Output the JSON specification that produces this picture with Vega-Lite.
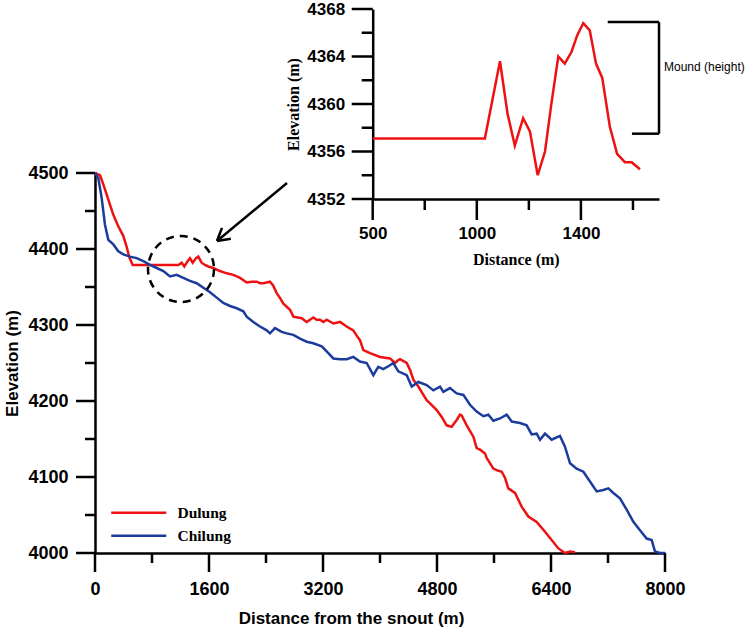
{
  "$schema": "https://vega.github.io/schema/vega-lite/v6.json",
  "width": 570,
  "height": 380,
  "autosize": {"type": "none"},
  "padding": {"left": 95, "top": 173, "right": 89, "bottom": 76},
  "background": "white",
  "config": {
    "view": {"stroke": null},
    "axis": {
      "grid": false,
      "ticks": false,
      "domainColor": "black",
      "domainWidth": 2.5,
      "labelColor": "black",
      "titleColor": "black",
      "labelFlush": false,
      "labelOverlap": false,
      "labelAngle": 0,
      "format": "d"
    }
  },
  "datasets": {
    "main": [
      {"s": "Dulung", "d": 0, "e": 4500}, {"s": "Dulung", "d": 70, "e": 4497}, {"s": "Dulung", "d": 117, "e": 4485}, {"s": "Dulung", "d": 187, "e": 4465}, {"s": "Dulung", "d": 257, "e": 4445}, {"s": "Dulung", "d": 327, "e": 4430}, {"s": "Dulung", "d": 398, "e": 4417}, {"s": "Dulung", "d": 444, "e": 4403}, {"s": "Dulung", "d": 482, "e": 4389}, {"s": "Dulung", "d": 529, "e": 4379}, {"s": "Dulung", "d": 700, "e": 4379}, {"s": "Dulung", "d": 900, "e": 4379}, {"s": "Dulung", "d": 1170, "e": 4379}, {"s": "Dulung", "d": 1216, "e": 4382}, {"s": "Dulung", "d": 1254, "e": 4377}, {"s": "Dulung", "d": 1300, "e": 4384}, {"s": "Dulung", "d": 1333, "e": 4388}, {"s": "Dulung", "d": 1371, "e": 4382}, {"s": "Dulung", "d": 1418, "e": 4388}, {"s": "Dulung", "d": 1450, "e": 4390}, {"s": "Dulung", "d": 1497, "e": 4382}, {"s": "Dulung", "d": 1544, "e": 4379}, {"s": "Dulung", "d": 1590, "e": 4377}, {"s": "Dulung", "d": 1660, "e": 4375}, {"s": "Dulung", "d": 1754, "e": 4371}, {"s": "Dulung", "d": 1848, "e": 4368}, {"s": "Dulung", "d": 1941, "e": 4366}, {"s": "Dulung", "d": 2035, "e": 4362}, {"s": "Dulung", "d": 2129, "e": 4356}, {"s": "Dulung", "d": 2200, "e": 4357}, {"s": "Dulung", "d": 2270, "e": 4357}, {"s": "Dulung", "d": 2316, "e": 4355}, {"s": "Dulung", "d": 2363, "e": 4355}, {"s": "Dulung", "d": 2456, "e": 4357}, {"s": "Dulung", "d": 2500, "e": 4352}, {"s": "Dulung", "d": 2550, "e": 4342}, {"s": "Dulung", "d": 2600, "e": 4335}, {"s": "Dulung", "d": 2644, "e": 4328}, {"s": "Dulung", "d": 2737, "e": 4320}, {"s": "Dulung", "d": 2784, "e": 4311}, {"s": "Dulung", "d": 2901, "e": 4309}, {"s": "Dulung", "d": 2971, "e": 4304}, {"s": "Dulung", "d": 3064, "e": 4310}, {"s": "Dulung", "d": 3110, "e": 4307}, {"s": "Dulung", "d": 3158, "e": 4307}, {"s": "Dulung", "d": 3205, "e": 4304}, {"s": "Dulung", "d": 3252, "e": 4307}, {"s": "Dulung", "d": 3345, "e": 4302}, {"s": "Dulung", "d": 3439, "e": 4304}, {"s": "Dulung", "d": 3532, "e": 4298}, {"s": "Dulung", "d": 3625, "e": 4293}, {"s": "Dulung", "d": 3680, "e": 4285}, {"s": "Dulung", "d": 3719, "e": 4280}, {"s": "Dulung", "d": 3766, "e": 4267}, {"s": "Dulung", "d": 3860, "e": 4263}, {"s": "Dulung", "d": 4000, "e": 4258}, {"s": "Dulung", "d": 4140, "e": 4256}, {"s": "Dulung", "d": 4210, "e": 4250}, {"s": "Dulung", "d": 4257, "e": 4254}, {"s": "Dulung", "d": 4281, "e": 4255}, {"s": "Dulung", "d": 4375, "e": 4250}, {"s": "Dulung", "d": 4421, "e": 4241}, {"s": "Dulung", "d": 4468, "e": 4228}, {"s": "Dulung", "d": 4538, "e": 4219}, {"s": "Dulung", "d": 4609, "e": 4208}, {"s": "Dulung", "d": 4655, "e": 4201}, {"s": "Dulung", "d": 4702, "e": 4197}, {"s": "Dulung", "d": 4796, "e": 4188}, {"s": "Dulung", "d": 4866, "e": 4179}, {"s": "Dulung", "d": 4936, "e": 4168}, {"s": "Dulung", "d": 5006, "e": 4166}, {"s": "Dulung", "d": 5076, "e": 4175}, {"s": "Dulung", "d": 5123, "e": 4182}, {"s": "Dulung", "d": 5146, "e": 4181}, {"s": "Dulung", "d": 5217, "e": 4168}, {"s": "Dulung", "d": 5310, "e": 4153}, {"s": "Dulung", "d": 5357, "e": 4138}, {"s": "Dulung", "d": 5404, "e": 4136}, {"s": "Dulung", "d": 5474, "e": 4131}, {"s": "Dulung", "d": 5497, "e": 4125}, {"s": "Dulung", "d": 5591, "e": 4111}, {"s": "Dulung", "d": 5638, "e": 4109}, {"s": "Dulung", "d": 5708, "e": 4107}, {"s": "Dulung", "d": 5754, "e": 4099}, {"s": "Dulung", "d": 5801, "e": 4085}, {"s": "Dulung", "d": 5895, "e": 4079}, {"s": "Dulung", "d": 5988, "e": 4061}, {"s": "Dulung", "d": 6082, "e": 4048}, {"s": "Dulung", "d": 6199, "e": 4041}, {"s": "Dulung", "d": 6316, "e": 4028}, {"s": "Dulung", "d": 6409, "e": 4017}, {"s": "Dulung", "d": 6503, "e": 4006}, {"s": "Dulung", "d": 6596, "e": 4000}, {"s": "Dulung", "d": 6667, "e": 4002}, {"s": "Dulung", "d": 6737, "e": 4001},
      {"s": "Chilung", "d": 0, "e": 4500}, {"s": "Chilung", "d": 47, "e": 4493}, {"s": "Chilung", "d": 94, "e": 4467}, {"s": "Chilung", "d": 140, "e": 4432}, {"s": "Chilung", "d": 187, "e": 4412}, {"s": "Chilung", "d": 257, "e": 4406}, {"s": "Chilung", "d": 327, "e": 4397}, {"s": "Chilung", "d": 398, "e": 4393}, {"s": "Chilung", "d": 491, "e": 4390}, {"s": "Chilung", "d": 585, "e": 4388}, {"s": "Chilung", "d": 678, "e": 4384}, {"s": "Chilung", "d": 772, "e": 4379}, {"s": "Chilung", "d": 866, "e": 4375}, {"s": "Chilung", "d": 959, "e": 4371}, {"s": "Chilung", "d": 1053, "e": 4364}, {"s": "Chilung", "d": 1146, "e": 4366}, {"s": "Chilung", "d": 1240, "e": 4362}, {"s": "Chilung", "d": 1333, "e": 4358}, {"s": "Chilung", "d": 1427, "e": 4355}, {"s": "Chilung", "d": 1521, "e": 4349}, {"s": "Chilung", "d": 1614, "e": 4343}, {"s": "Chilung", "d": 1708, "e": 4336}, {"s": "Chilung", "d": 1801, "e": 4329}, {"s": "Chilung", "d": 1895, "e": 4325}, {"s": "Chilung", "d": 1989, "e": 4322}, {"s": "Chilung", "d": 2082, "e": 4318}, {"s": "Chilung", "d": 2129, "e": 4311}, {"s": "Chilung", "d": 2222, "e": 4304}, {"s": "Chilung", "d": 2316, "e": 4298}, {"s": "Chilung", "d": 2410, "e": 4293}, {"s": "Chilung", "d": 2456, "e": 4289}, {"s": "Chilung", "d": 2526, "e": 4296}, {"s": "Chilung", "d": 2620, "e": 4291}, {"s": "Chilung", "d": 2690, "e": 4289}, {"s": "Chilung", "d": 2784, "e": 4287}, {"s": "Chilung", "d": 2877, "e": 4282}, {"s": "Chilung", "d": 2971, "e": 4278}, {"s": "Chilung", "d": 3064, "e": 4276}, {"s": "Chilung", "d": 3182, "e": 4272}, {"s": "Chilung", "d": 3275, "e": 4263}, {"s": "Chilung", "d": 3345, "e": 4256}, {"s": "Chilung", "d": 3439, "e": 4255}, {"s": "Chilung", "d": 3532, "e": 4255}, {"s": "Chilung", "d": 3625, "e": 4258}, {"s": "Chilung", "d": 3719, "e": 4252}, {"s": "Chilung", "d": 3813, "e": 4250}, {"s": "Chilung", "d": 3906, "e": 4234}, {"s": "Chilung", "d": 3976, "e": 4245}, {"s": "Chilung", "d": 4046, "e": 4242}, {"s": "Chilung", "d": 4140, "e": 4247}, {"s": "Chilung", "d": 4187, "e": 4250}, {"s": "Chilung", "d": 4257, "e": 4239}, {"s": "Chilung", "d": 4375, "e": 4234}, {"s": "Chilung", "d": 4445, "e": 4219}, {"s": "Chilung", "d": 4538, "e": 4225}, {"s": "Chilung", "d": 4655, "e": 4221}, {"s": "Chilung", "d": 4749, "e": 4214}, {"s": "Chilung", "d": 4842, "e": 4219}, {"s": "Chilung", "d": 4889, "e": 4212}, {"s": "Chilung", "d": 4982, "e": 4217}, {"s": "Chilung", "d": 5076, "e": 4210}, {"s": "Chilung", "d": 5170, "e": 4208}, {"s": "Chilung", "d": 5263, "e": 4195}, {"s": "Chilung", "d": 5357, "e": 4186}, {"s": "Chilung", "d": 5450, "e": 4180}, {"s": "Chilung", "d": 5521, "e": 4182}, {"s": "Chilung", "d": 5591, "e": 4174}, {"s": "Chilung", "d": 5684, "e": 4177}, {"s": "Chilung", "d": 5778, "e": 4182}, {"s": "Chilung", "d": 5848, "e": 4173}, {"s": "Chilung", "d": 5965, "e": 4171}, {"s": "Chilung", "d": 6058, "e": 4168}, {"s": "Chilung", "d": 6129, "e": 4156}, {"s": "Chilung", "d": 6199, "e": 4157}, {"s": "Chilung", "d": 6246, "e": 4149}, {"s": "Chilung", "d": 6316, "e": 4157}, {"s": "Chilung", "d": 6409, "e": 4149}, {"s": "Chilung", "d": 6526, "e": 4154}, {"s": "Chilung", "d": 6596, "e": 4140}, {"s": "Chilung", "d": 6667, "e": 4118}, {"s": "Chilung", "d": 6760, "e": 4111}, {"s": "Chilung", "d": 6854, "e": 4107}, {"s": "Chilung", "d": 6947, "e": 4094}, {"s": "Chilung", "d": 7041, "e": 4081}, {"s": "Chilung", "d": 7135, "e": 4083}, {"s": "Chilung", "d": 7205, "e": 4085}, {"s": "Chilung", "d": 7275, "e": 4079}, {"s": "Chilung", "d": 7368, "e": 4072}, {"s": "Chilung", "d": 7462, "e": 4057}, {"s": "Chilung", "d": 7556, "e": 4041}, {"s": "Chilung", "d": 7649, "e": 4030}, {"s": "Chilung", "d": 7743, "e": 4019}, {"s": "Chilung", "d": 7813, "e": 4017}, {"s": "Chilung", "d": 7860, "e": 4002}, {"s": "Chilung", "d": 7930, "e": 4000}, {"s": "Chilung", "d": 8000, "e": 4000}
    ],
    "inset": [
      {"d": 600, "e": 4357.1}, {"d": 1031, "e": 4357.1}, {"d": 1089, "e": 4363.6}, {"d": 1118, "e": 4359.2}, {"d": 1146, "e": 4356.5}, {"d": 1178, "e": 4358.8}, {"d": 1204, "e": 4357.7}, {"d": 1234, "e": 4354.0}, {"d": 1262, "e": 4356.0}, {"d": 1287, "e": 4360.1}, {"d": 1313, "e": 4364.0}, {"d": 1338, "e": 4363.4}, {"d": 1364, "e": 4364.4}, {"d": 1386, "e": 4365.8}, {"d": 1409, "e": 4366.8}, {"d": 1434, "e": 4366.2}, {"d": 1458, "e": 4363.4}, {"d": 1482, "e": 4362.2}, {"d": 1511, "e": 4358.1}, {"d": 1539, "e": 4355.8}, {"d": 1569, "e": 4355.1}, {"d": 1595, "e": 4355.1}, {"d": 1627, "e": 4354.5}
    ],
    "arrow": [
      {"d": 2695, "e": 4486.8, "d2": 1712, "e2": 4410.5},
      {"d": 1712, "e": 4410.5, "d2": 1906, "e2": 4413.4},
      {"d": 1712, "e": 4410.5, "d2": 1782, "e2": 4427.8}
    ],
    "circle": [{"d": 1207, "e": 4373.7}],
    "bracket": [
      {"d": 1503, "e": 4366.9, "d2": 1700, "e2": 4366.9},
      {"d": 1700, "e": 4366.9, "d2": 1700, "e2": 4357.5},
      {"d": 1596, "e": 4357.5, "d2": 1700, "e2": 4357.5}
    ],
    "note": [{"d": 1700, "e": 4363.1, "label": "Mound (height)"}],
    "mxMajor": [{"v": 0}, {"v": 1600}, {"v": 3200}, {"v": 4800}, {"v": 6400}, {"v": 8000}],
    "mxMinor": [{"v": 800}, {"v": 2400}, {"v": 4000}, {"v": 5600}, {"v": 7200}],
    "myMajor": [{"v": 4000}, {"v": 4100}, {"v": 4200}, {"v": 4300}, {"v": 4400}, {"v": 4500}],
    "myMinor": [{"v": 4050}, {"v": 4150}, {"v": 4250}, {"v": 4350}, {"v": 4450}],
    "ixMajor": [{"v": 600}, {"v": 1000}, {"v": 1400}],
    "ixMinor": [{"v": 800}, {"v": 1200}, {"v": 1600}],
    "iyMajor": [{"v": 4352}, {"v": 4356}, {"v": 4360}, {"v": 4364}, {"v": 4368}],
    "iyMinor": [{"v": 4354}, {"v": 4358}, {"v": 4362}, {"v": 4366}]
  },
  "layer": [
    {
      "layer": [
        {
          "data": {"name": "main"},
          "mark": {"type": "line", "strokeWidth": 2.5},
          "encoding": {
            "x": {"field": "d", "type": "quantitative", "scale": {"domain": [0, 8000], "nice": false, "zero": false},
              "axis": {"orient": "bottom", "values": [0, 1600, 3200, 4800, 6400, 8000], "format": "d", "ticks": false, "labelPadding": 27,
                "labelFont": "Liberation Sans", "labelFontWeight": "bold", "labelFontSize": 18,
                "title": "Distance from the snout (m)", "titleFont": "Liberation Sans", "titleFontWeight": "bold", "titleFontSize": 17,
                "titlePadding": 12, "titleX": 256}},
            "y": {"field": "e", "type": "quantitative", "scale": {"domain": [4000, 4500], "nice": false, "zero": false},
              "axis": {"orient": "left", "values": [4000, 4100, 4200, 4300, 4400, 4500], "format": "d", "ticks": false, "labelPadding": 27,
                "labelFont": "Liberation Sans", "labelFontWeight": "bold", "labelFontSize": 18,
                "title": "Elevation (m)", "titleFont": "Liberation Sans", "titleFontWeight": "bold", "titleFontSize": 17,
                "titlePadding": 6}},
            "color": {"field": "s", "type": "nominal",
              "scale": {"domain": ["Dulung", "Chilung"], "range": ["#ee1111", "#1b3c9b"]},
              "legend": {"orient": "none", "legendX": 36, "legendY": 332, "title": null, "symbolType": "M-5.5,0H5.5",
                "symbolSize": 100, "symbolStrokeWidth": 2.5, "symbolFillColor": "transparent", "labelFont": "Liberation Serif", "labelFontWeight": "bold",
                "labelFontSize": 15.5, "labelColor": "black", "labelOffset": 31, "rowPadding": 6, "padding": 0}}
          }
        },
        {
          "data": {"name": "mxMajor"},
          "mark": {"type": "rule", "stroke": "black", "strokeWidth": 2.5, "y2Offset": 19},
          "encoding": {
            "x": {"field": "v", "type": "quantitative", "scale": {"domain": [0, 8000], "nice": false, "zero": false}, "axis": null},
            "y": {"datum": 4000, "type": "quantitative", "scale": {"domain": [4000, 4500], "nice": false, "zero": false}, "axis": null},
            "y2": {"datum": 4000}
          }
        },
        {
          "data": {"name": "mxMinor"},
          "mark": {"type": "rule", "stroke": "black", "strokeWidth": 2.5, "y2Offset": 10},
          "encoding": {
            "x": {"field": "v", "type": "quantitative", "scale": {"domain": [0, 8000], "nice": false, "zero": false}, "axis": null},
            "y": {"datum": 4000, "type": "quantitative", "scale": {"domain": [4000, 4500], "nice": false, "zero": false}, "axis": null},
            "y2": {"datum": 4000}
          }
        },
        {
          "data": {"name": "myMajor"},
          "mark": {"type": "rule", "stroke": "black", "strokeWidth": 2.5, "x2Offset": -19},
          "encoding": {
            "y": {"field": "v", "type": "quantitative", "scale": {"domain": [4000, 4500], "nice": false, "zero": false}, "axis": null},
            "x": {"datum": 0, "type": "quantitative", "scale": {"domain": [0, 8000], "nice": false, "zero": false}, "axis": null},
            "x2": {"datum": 0}
          }
        },
        {
          "data": {"name": "myMinor"},
          "mark": {"type": "rule", "stroke": "black", "strokeWidth": 2.5, "x2Offset": -10},
          "encoding": {
            "y": {"field": "v", "type": "quantitative", "scale": {"domain": [4000, 4500], "nice": false, "zero": false}, "axis": null},
            "x": {"datum": 0, "type": "quantitative", "scale": {"domain": [0, 8000], "nice": false, "zero": false}, "axis": null},
            "x2": {"datum": 0}
          }
        },
        {
          "data": {"name": "circle"},
          "mark": {"type": "point", "shape": "circle", "size": 4356, "filled": false, "stroke": "black", "strokeWidth": 2.5, "strokeDash": [8, 6], "opacity": 1},
          "encoding": {
            "x": {"field": "d", "type": "quantitative", "scale": {"domain": [0, 8000], "nice": false, "zero": false}, "axis": null},
            "y": {"field": "e", "type": "quantitative", "scale": {"domain": [4000, 4500], "nice": false, "zero": false}, "axis": null}
          }
        },
        {
          "data": {"name": "arrow"},
          "mark": {"type": "rule", "stroke": "black", "strokeWidth": 2.5},
          "encoding": {
            "x": {"field": "d", "type": "quantitative", "scale": {"domain": [0, 8000], "nice": false, "zero": false}, "axis": null},
            "y": {"field": "e", "type": "quantitative", "scale": {"domain": [4000, 4500], "nice": false, "zero": false}, "axis": null},
            "x2": {"field": "d2"},
            "y2": {"field": "e2"}
          }
        }
      ],
      "resolve": {"axis": {"x": "independent", "y": "independent"}}
    },
    {
      "layer": [
        {
          "data": {"name": "inset"},
          "mark": {"type": "line", "strokeWidth": 2.5, "color": "#ee1111"},
          "encoding": {
            "x": {"field": "d", "type": "quantitative", "scale": {"domain": [600, 1700], "range": [277.7, 564], "nice": false, "zero": false},
              "axis": {"orient": "bottom", "offset": -354, "values": [600, 1000, 1400], "ticks": false, "labelPadding": 26,
                "labelExpr": "datum.value == 600 ? '500' : format(datum.value, 'd')",
                "labelFont": "Liberation Sans", "labelFontWeight": "bold", "labelFontSize": 17,
                "title": "Distance (m)", "titleFont": "Liberation Serif", "titleFontWeight": "bold", "titleFontSize": 16, "titlePadding": 10}},
            "y": {"field": "e", "type": "quantitative", "scale": {"domain": [4352, 4368], "range": [26, -164], "nice": false, "zero": false},
              "axis": {"orient": "left", "offset": -277.7, "values": [4352, 4356, 4360, 4364, 4368], "format": "d", "ticks": false, "labelPadding": 28,
                "labelFont": "Liberation Sans", "labelFontWeight": "bold", "labelFontSize": 17,
                "title": "Elevation (m)", "titleFont": "Liberation Serif", "titleFontWeight": "bold", "titleFontSize": 16, "titlePadding": 5}}
          }
        },
        {
          "data": {"name": "ixMajor"},
          "mark": {"type": "rule", "stroke": "black", "strokeWidth": 2.5, "y2Offset": 21},
          "encoding": {
            "x": {"field": "v", "type": "quantitative", "scale": {"domain": [600, 1700], "range": [277.7, 564], "nice": false, "zero": false}, "axis": null},
            "y": {"datum": 4352, "type": "quantitative", "scale": {"domain": [4352, 4368], "range": [26, -164], "nice": false, "zero": false}, "axis": null},
            "y2": {"datum": 4352}
          }
        },
        {
          "data": {"name": "ixMinor"},
          "mark": {"type": "rule", "stroke": "black", "strokeWidth": 2.5, "y2Offset": 11},
          "encoding": {
            "x": {"field": "v", "type": "quantitative", "scale": {"domain": [600, 1700], "range": [277.7, 564], "nice": false, "zero": false}, "axis": null},
            "y": {"datum": 4352, "type": "quantitative", "scale": {"domain": [4352, 4368], "range": [26, -164], "nice": false, "zero": false}, "axis": null},
            "y2": {"datum": 4352}
          }
        },
        {
          "data": {"name": "iyMajor"},
          "mark": {"type": "rule", "stroke": "black", "strokeWidth": 2.5, "x2Offset": -21},
          "encoding": {
            "y": {"field": "v", "type": "quantitative", "scale": {"domain": [4352, 4368], "range": [26, -164], "nice": false, "zero": false}, "axis": null},
            "x": {"datum": 600, "type": "quantitative", "scale": {"domain": [600, 1700], "range": [277.7, 564], "nice": false, "zero": false}, "axis": null},
            "x2": {"datum": 600}
          }
        },
        {
          "data": {"name": "iyMinor"},
          "mark": {"type": "rule", "stroke": "black", "strokeWidth": 2.5, "x2Offset": -11},
          "encoding": {
            "y": {"field": "v", "type": "quantitative", "scale": {"domain": [4352, 4368], "range": [26, -164], "nice": false, "zero": false}, "axis": null},
            "x": {"datum": 600, "type": "quantitative", "scale": {"domain": [600, 1700], "range": [277.7, 564], "nice": false, "zero": false}, "axis": null},
            "x2": {"datum": 600}
          }
        },
        {
          "data": {"name": "bracket"},
          "mark": {"type": "rule", "stroke": "black", "strokeWidth": 2.5},
          "encoding": {
            "x": {"field": "d", "type": "quantitative", "scale": {"domain": [600, 1700], "range": [277.7, 564], "nice": false, "zero": false}, "axis": null},
            "y": {"field": "e", "type": "quantitative", "scale": {"domain": [4352, 4368], "range": [26, -164], "nice": false, "zero": false}, "axis": null},
            "x2": {"field": "d2"},
            "y2": {"field": "e2"}
          }
        },
        {
          "data": {"name": "note"},
          "mark": {"type": "text", "align": "left", "baseline": "middle", "dx": 5, "font": "Liberation Sans", "fontSize": 12, "color": "black"},
          "encoding": {
            "x": {"field": "d", "type": "quantitative", "scale": {"domain": [600, 1700], "range": [277.7, 564], "nice": false, "zero": false}, "axis": null},
            "y": {"field": "e", "type": "quantitative", "scale": {"domain": [4352, 4368], "range": [26, -164], "nice": false, "zero": false}, "axis": null},
            "text": {"field": "label"}
          }
        }
      ],
      "resolve": {"axis": {"x": "independent", "y": "independent"}}
    }
  ],
  "resolve": {"scale": {"x": "independent", "y": "independent"}, "axis": {"x": "independent", "y": "independent"}}
}
